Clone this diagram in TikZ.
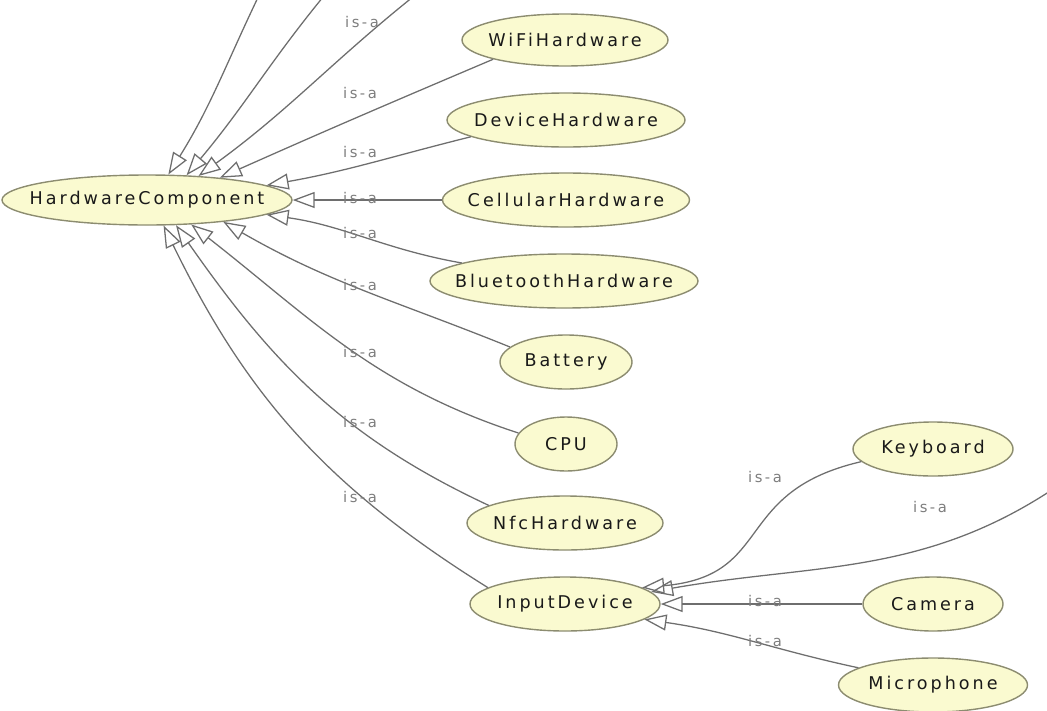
\documentclass[tikz,border=0pt]{standalone}
\usepackage{fontspec}
\setmainfont{DejaVu Sans}[LetterSpace=17]
\usetikzlibrary{arrows.meta,shapes.geometric}

\definecolor{conceptfill}{RGB}{250,250,208}
\definecolor{conceptline}{RGB}{140,140,112}
\definecolor{edgegray}{RGB}{110,110,110}
\definecolor{labelgray}{RGB}{125,125,125}

\begin{document}
\begin{tikzpicture}[x=0.25mm, y=0.25mm,
  concept/.style={ellipse, draw=conceptline, line width=0.35mm, fill=conceptfill,
    inner xsep=-6mm, inner ysep=0pt, minimum height=13.5mm,
    font=\fontsize{12.5}{14}\selectfont, text=black!90},
  isa/.style={draw=edgegray, line width=0.32mm, -{Triangle[open, length=5.5mm, width=4mm]}},
  isalab/.style={font=\fontsize{10.5}{12}\selectfont, text=labelgray, inner sep=1pt}]
  \useasboundingbox (0,-710) rectangle (1047,0);
  \clip (0,-710) rectangle (1047,0);
  % classes
  \node[concept, minimum width=72.5mm, minimum height=12.5mm] (hc) at (147,-200) {HardwareComponent};
  \node[concept, minimum width=51.5mm, minimum height=13mm] (wifi) at (565,-40) {WiFiHardware};
  \node[concept, minimum width=59.5mm] (device) at (566,-120) {DeviceHardware};
  \node[concept, minimum width=61.75mm] (cellular) at (566,-200) {CellularHardware};
  \node[concept, minimum width=67mm] (bluetooth) at (564,-281) {BluetoothHardware};
  \node[concept, minimum width=33mm] (battery) at (566,-362) {Battery};
  \node[concept, minimum width=25.5mm] (cpu) at (566,-444) {CPU};
  \node[concept, minimum width=49mm] (nfc) at (565,-523) {NfcHardware};
  \node[concept, minimum width=47.5mm] (input) at (565,-604) {InputDevice};
  \node[concept, minimum width=40mm] (keyboard) at (933,-449) {Keyboard};
  \node[concept, minimum width=35mm] (camera) at (933,-604) {Camera};
  \node[concept, minimum width=47.25mm] (microphone) at (933,-685) {Microphone};
  % classes outside the frame
  \coordinate (up1) at (264,15);
  \coordinate (up2) at (333,15);
  \coordinate (up3) at (428,15);
  \coordinate (offright) at (1065,-481);
  % is-a edges
  \foreach \src/\out/\in/\tip in {up1/244/58/50, up2/230/50/32, up3/218/36/25,
      wifi.195/203/24/17, device.190/194/10/7, bluetooth.170/170/-8/-7,
      battery.165/158/-30/-16, cpu.167/162/-38/-29, nfc.167/155/-55/-41,
      input.168/148/-64/-57}{
    \draw[isa] (\src) to[out=\out, in=\in] (hc.\tip);
  }
  \draw[isa] (cellular) -- (hc);
  \draw[isa] (keyboard.190) to[out=193, in=5, looseness=1.35] (input.12);
  \draw[isa] (offright) to[out=215, in=10] (input.8);
  \draw[isa] (camera) -- (input);
  \draw[isa] (microphone.167) to[out=168, in=-8] (input.-11);
  % labels
  \foreach \name/\x/\y in {lup3/362/-22, lwifi/360/-93, ldevice/360/-152,
      lcellular/360/-198, lbluetooth/360/-233, lbattery/360/-285, lcpu/360/-352,
      lnfc/360/-422, linput/360/-497, lkeyboard/765/-477, loffright/930/-507,
      lcamera/765/-601, lmicrophone/765/-641}{
    \node[isalab] (\name) at (\x,\y) {is-a};
  }
\end{tikzpicture}
\end{document}
